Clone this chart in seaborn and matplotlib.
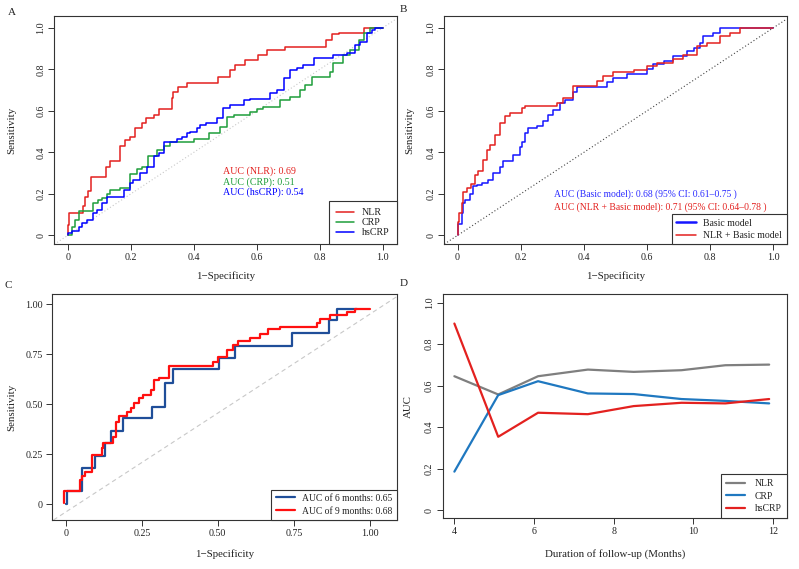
import matplotlib
matplotlib.use("Agg")
import matplotlib.pyplot as plt
import seaborn as sns
import pandas as pd

# ---------------- data ----------------
# Panel A: ROC of single markers
A_NLR_FPR = [0, 0.005, 0.01, 0.048, 0.055, 0.063, 0.075, 0.092, 0.12, 0.134, 0.14, 0.166, 0.18, 0.198,
             0.214, 0.235, 0.248, 0.272, 0.288, 0.304, 0.33, 0.335, 0.351, 0.378, 0.40, 0.478, 0.515,
             0.531, 0.563, 0.605, 0.632, 0.69, 0.716, 0.82, 0.838, 0.86, 0.897, 0.94, 0.955, 1.0]
A_NLR_TPR = [0, 0.05, 0.106, 0.106, 0.14, 0.186, 0.215, 0.28, 0.28, 0.33, 0.36, 0.36, 0.43, 0.46,
             0.475, 0.515, 0.54, 0.563, 0.58, 0.61, 0.61, 0.66, 0.69, 0.716, 0.735, 0.735, 0.764,
             0.796, 0.82, 0.844, 0.868, 0.892, 0.908, 0.908, 0.94, 0.968, 0.976, 0.976, 1.0, 1.0]
A_CRP_FPR = [0, 0.013, 0.023, 0.034, 0.055, 0.081, 0.097, 0.108, 0.124, 0.134, 0.166, 0.198, 0.219,
             0.235, 0.256, 0.283, 0.304, 0.325, 0.34, 0.40, 0.42, 0.447, 0.484, 0.505, 0.526, 0.579,
             0.60, 0.62, 0.674, 0.706, 0.738, 0.753, 0.775, 0.80, 0.833, 0.843, 0.875, 0.896, 0.923,
             0.939, 0.96, 0.98, 1.0]
A_CRP_TPR = [0, 0, 0.042, 0.074, 0.119, 0.119, 0.154, 0.17, 0.178, 0.2, 0.22, 0.226, 0.295, 0.32,
             0.33, 0.38, 0.41, 0.43, 0.45, 0.45, 0.466, 0.466, 0.494, 0.523, 0.57, 0.58, 0.594, 0.61,
             0.616, 0.651, 0.668, 0.70, 0.724, 0.764, 0.764, 0.788, 0.828, 0.868, 0.892, 0.94, 0.973,
             1.0, 1.0]
A_HS_FPR = [0, 0.013, 0.034, 0.044, 0.06, 0.081, 0.092, 0.108, 0.124, 0.134, 0.177, 0.198, 0.208,
            0.23, 0.25, 0.272, 0.288, 0.304, 0.314, 0.346, 0.362, 0.378, 0.388, 0.41, 0.42, 0.44,
            0.473, 0.494, 0.515, 0.558, 0.579, 0.642, 0.664, 0.685, 0.706, 0.727, 0.748, 0.78, 0.80,
            0.843, 0.886, 0.912, 0.928, 0.949, 0.965, 0.976, 1.0]
A_HS_TPR = [0, 0.01, 0.02, 0.042, 0.058, 0.074, 0.106, 0.122, 0.154, 0.186, 0.186, 0.218, 0.25,
            0.266, 0.30, 0.33, 0.38, 0.395, 0.45, 0.45, 0.466, 0.475, 0.491, 0.50, 0.515, 0.531,
            0.539, 0.563, 0.612, 0.628, 0.652, 0.655, 0.684, 0.70, 0.756, 0.796, 0.804, 0.82, 0.852,
            0.852, 0.868, 0.876, 0.916, 0.933, 0.973, 0.99, 1.0]
A_AUC_TEXT = ["AUC (NLR): 0.69", "AUC (CRP): 0.51", "AUC (hsCRP): 0.54"]

# Panel B: basic model vs NLR + basic model
B_BASIC_FPR = [0, 0.002, 0.013, 0.018, 0.023, 0.039, 0.05, 0.06, 0.076, 0.097, 0.113, 0.134, 0.145,
               0.155, 0.176, 0.187, 0.198, 0.203, 0.213, 0.224, 0.25, 0.271, 0.287, 0.303, 0.324,
               0.34, 0.366, 0.377, 0.398, 0.472, 0.493, 0.535, 0.546, 0.599, 0.62, 0.652, 0.683,
               0.725, 0.747, 0.768, 0.778, 0.81, 0.831, 0.852, 1.0]
B_BASIC_TPR = [0, 0.055, 0.055, 0.106, 0.155, 0.17, 0.2, 0.238, 0.243, 0.254, 0.267, 0.30, 0.33,
               0.356, 0.356, 0.388, 0.388, 0.428, 0.452, 0.493, 0.517, 0.525, 0.549, 0.581, 0.605,
               0.638, 0.654, 0.689, 0.715, 0.715, 0.737, 0.758, 0.775, 0.775, 0.799, 0.823, 0.839,
               0.863, 0.887, 0.903, 0.928, 0.96, 0.976, 1.0, 1.0]
B_COMB_FPR = [0, 0.003, 0.013, 0.018, 0.029, 0.044, 0.055, 0.065, 0.081, 0.092, 0.102, 0.118, 0.134,
              0.15, 0.166, 0.203, 0.213, 0.229, 0.314, 0.335, 0.366, 0.388, 0.44, 0.46, 0.493, 0.557,
              0.599, 0.63, 0.683, 0.715, 0.757, 0.789, 0.831, 0.863, 0.894, 0.921, 1.0]
B_COMB_TPR = [0, 0.066, 0.106, 0.155, 0.211, 0.227, 0.248, 0.291, 0.308, 0.364, 0.412, 0.436, 0.485,
              0.541, 0.573, 0.589, 0.614, 0.625, 0.625, 0.638, 0.662, 0.718, 0.718, 0.742, 0.766,
              0.786, 0.796, 0.818, 0.831, 0.85, 0.871, 0.911, 0.928, 0.96, 0.976, 1.0, 1.0]
B_AUC_TEXT = ["AUC (Basic model): 0.68 (95% CI: 0.61\u20130.75 )",
              "AUC (NLR + Basic model): 0.71 (95% CI: 0.64\u20130.78 )"]

# Panel C: NLR at 6 and 9 months
C_6M_FPR = [0, 0.003, 0.003, 0.053, 0.053, 0.058, 0.096, 0.096, 0.129, 0.129, 0.15, 0.157, 0.189,
            0.189, 0.283, 0.283, 0.326, 0.326, 0.332, 0.354, 0.354, 0.505, 0.505, 0.556, 0.556, 0.743,
            0.743, 0.866, 0.866, 0.893, 0.893, 0.956]
C_6M_TPR = [0, 0, 0.068, 0.068, 0.122, 0.183, 0.183, 0.243, 0.243, 0.305, 0.305, 0.368, 0.368, 0.43,
            0.43, 0.488, 0.488, 0.547, 0.605, 0.605, 0.675, 0.675, 0.733, 0.733, 0.793, 0.793, 0.858,
            0.858, 0.922, 0.922, 0.977, 0.977]
C_9M_FPR = [-0.004, 0.003, 0.047, 0.053, 0.064, 0.078, 0.085, 0.096, 0.12, 0.124, 0.13, 0.157, 0.166,
            0.176, 0.2, 0.216, 0.225, 0.241, 0.255, 0.28, 0.289, 0.307, 0.34, 0.345, 0.485, 0.5,
            0.53, 0.55, 0.567, 0.606, 0.639, 0.666, 0.704, 0.72, 0.825, 0.836, 0.869, 0.923, 0.95,
            0.962, 1.0]
C_9M_TPR = [0.008, 0.068, 0.068, 0.122, 0.143, 0.163, 0.163, 0.245, 0.245, 0.28, 0.305, 0.305, 0.338,
            0.41, 0.44, 0.463, 0.48, 0.505, 0.53, 0.547, 0.572, 0.622, 0.63, 0.692, 0.692, 0.713,
            0.738, 0.772, 0.797, 0.817, 0.83, 0.852, 0.875, 0.888, 0.888, 0.908, 0.925, 0.947,
            0.963, 0.977, 0.977]
C_DIAG = [(-0.03, -0.068), (1.09, 1.04)]

# Panel D: AUC by follow-up duration
D_MONTHS = [4.0, 5.1, 6.1, 7.35, 8.5, 9.7, 10.8, 11.9]
D_NLR = [0.645, 0.557, 0.645, 0.677, 0.666, 0.674, 0.698, 0.701]
D_CRP = [0.185, 0.554, 0.621, 0.562, 0.559, 0.535, 0.526, 0.514]
D_HSCRP = [0.899, 0.353, 0.469, 0.462, 0.501, 0.517, 0.514, 0.535]

# ---------------- style ----------------
sns.set_style("ticks")
plt.rcParams["font.family"] = ["Liberation Serif", "DejaVu Serif"]
plt.rcParams["axes.unicode_minus"] = True

INK = "#333333"
FS = 7.2

fig = plt.figure(figsize=(7.99, 5.69), dpi=100)
W, H = 799, 569


def make_axes(left, top, right, bottom):
    return fig.add_axes([left / W, 1 - bottom / H, (right - left) / W, (bottom - top) / H])


def style(ax, xlim, ylim, xticks, xlabels, yticks, ylabels, yrot, xlab, ylab, xlab_y, ylab_x):
    ax.set_xlim(*xlim)
    ax.set_ylim(*ylim)
    ax.set_xticks(xticks)
    ax.set_xticklabels(xlabels)
    ax.set_yticks(yticks)
    if yrot:
        ax.set_yticklabels(ylabels, rotation=90, va="center")
    else:
        ax.set_yticklabels(ylabels)
    for s in ax.spines.values():
        s.set_visible(True)
        s.set_color(INK)
        s.set_linewidth(0.8)
    ax.tick_params(direction="out", length=4, width=0.7, color=INK, labelcolor="#222222",
                   labelsize=FS, pad=2.5)
    ax.set_xlabel(xlab, fontsize=FS + 0.6, color="#222222")
    ax.set_ylabel(ylab, fontsize=FS + 0.6, color="#222222")
    ax.xaxis.set_label_coords(0.5, xlab_y)
    ax.yaxis.set_label_coords(ylab_x, 0.5)
    ax.xaxis.label.set_va("center")
    ax.yaxis.label.set_va("center")
    ax.grid(False)


def roc(ax, fpr, tpr, color, label, lw=1.1):
    df = pd.DataFrame({"fpr": fpr, "tpr": tpr})
    sns.lineplot(data=df, x="fpr", y="tpr", sort=False, estimator=None, color=color, lw=lw,
                 drawstyle="steps-pre", label=label, ax=ax)


def legend(ax, handlelen=1.8, spacing=0.1, pad=0.7, textpad=0.8, fs=FS):
    leg = ax.legend(loc="lower right", bbox_to_anchor=(1, 0), borderaxespad=0, fancybox=False,
                    framealpha=1, edgecolor=INK, fontsize=fs, handlelength=handlelen,
                    handletextpad=textpad, labelspacing=spacing, borderpad=pad)
    leg.get_frame().set_linewidth(0.8)
    for t in leg.get_texts():
        t.set_color("#222222")
    return leg


SPEC = "1\u2212Specificity"
ROC_T = [0, 0.2, 0.4, 0.6, 0.8, 1.0]
ROC_L = ["0", "0.2", "0.4", "0.6", "0.8", "1.0"]

# ---------------- panel A ----------------
axA = make_axes(54.3, 15.7, 396.7, 244.3)
axA.axline((0, 0), (1, 1), color="#c8c8c8", lw=0.8, ls=(0, (1, 2)))
roc(axA, A_NLR_FPR, A_NLR_TPR, "#e3211f", "NLR")
roc(axA, A_CRP_FPR, A_CRP_TPR, "#1e9e3a", "CRP")
roc(axA, A_HS_FPR, A_HS_TPR, "#0000ff", "hsCRP")
style(axA, (-0.043, 1.044), (-0.043, 1.058), ROC_T, ROC_L, ROC_T, ROC_L, True,
      SPEC, "Sensitivity", -0.139, -0.124)
for txt, yy, col in zip(A_AUC_TEXT, [0.307, 0.257, 0.207], ["#e3211f", "#1e9e3a", "#0000ff"]):
    axA.text(0.494, yy, txt, color=col, fontsize=FS, va="center", ha="left")
legend(axA)

# ---------------- panel B ----------------
axB = make_axes(444.3, 15.7, 786.7, 244.3)
axB.axline((0, 0), (1, 1), color="#444444", lw=0.8, ls=(0, (1, 2)))
roc(axB, B_BASIC_FPR, B_BASIC_TPR, "#1515ff", "Basic model")
roc(axB, B_COMB_FPR, B_COMB_TPR, "#e3211f", "NLR + Basic model")
style(axB, (-0.042, 1.042), (-0.043, 1.058), ROC_T, ROC_L, ROC_T, ROC_L, True,
      SPEC, "Sensitivity", -0.139, -0.10)
for txt, yy, col in zip(B_AUC_TEXT, [0.20, 0.137], ["#2a2aff", "#e3211f"]):
    axB.text(0.306, yy, txt, color=col, fontsize=6.9, va="center", ha="left")
legB = legend(axB, handlelen=2.0, spacing=0.35, pad=0.45, fs=7.0)
legB.get_lines()[0].set_linewidth(1.8)

# ---------------- panel C ----------------
axC = make_axes(51.7, 294.3, 396.7, 520.0)
axC.axline(C_DIAG[0], C_DIAG[1], color="#c8c8c8", lw=0.8, ls=(0, (4, 3)))
roc(axC, C_6M_FPR, C_6M_TPR, "#1f4e99", "AUC of 6 months: 0.65", lw=1.6)
roc(axC, C_9M_FPR, C_9M_TPR, "#ff1010", "AUC of 9 months: 0.68", lw=1.6)
C_T = [0, 0.25, 0.5, 0.75, 1.0]
C_L = ["0", "0.25", "0.50", "0.75", "1.00"]
style(axC, (-0.046, 1.088), (-0.078, 1.05), C_T, C_L, C_T, C_L, False,
      SPEC, "Sensitivity", -0.151, -0.116)
legend(axC, handlelen=2.0, spacing=0.4, pad=0.45, textpad=0.75, fs=6.9)

# ---------------- panel D ----------------
axD = make_axes(442.7, 294.3, 786.7, 518.3)
dfD = pd.DataFrame({"month": D_MONTHS * 3,
                    "auc": D_NLR + D_CRP + D_HSCRP,
                    "marker": ["NLR"] * len(D_MONTHS) + ["CRP"] * len(D_MONTHS)
                              + ["hsCRP"] * len(D_MONTHS)})
sns.lineplot(data=dfD, x="month", y="auc", hue="marker", estimator=None, lw=1.6,
             palette={"NLR": "#7f7f7f", "CRP": "#1f78c0", "hsCRP": "#e3211f"}, ax=axD)
style(axD, (3.707, 12.34), (-0.04, 1.04), [4, 6, 8, 10, 12], ["4", "6", "8", "10", "12"],
      ROC_T, ROC_L, True, "Duration of follow-up (Months)", "AUC", -0.159, -0.10)
legend(axD, handlelen=2.0, spacing=0.35, pad=0.55, textpad=1.0, fs=6.9)

# panel letters
for lab, px, py in [("A", 11.7, 12.7), ("B", 403, 10), ("C", 8.3, 285), ("D", 403.3, 284)]:
    fig.text(px / W, 1 - py / H, lab, fontsize=8, ha="center", va="center", color="#222222")

fig.savefig("out.png", dpi=100)
